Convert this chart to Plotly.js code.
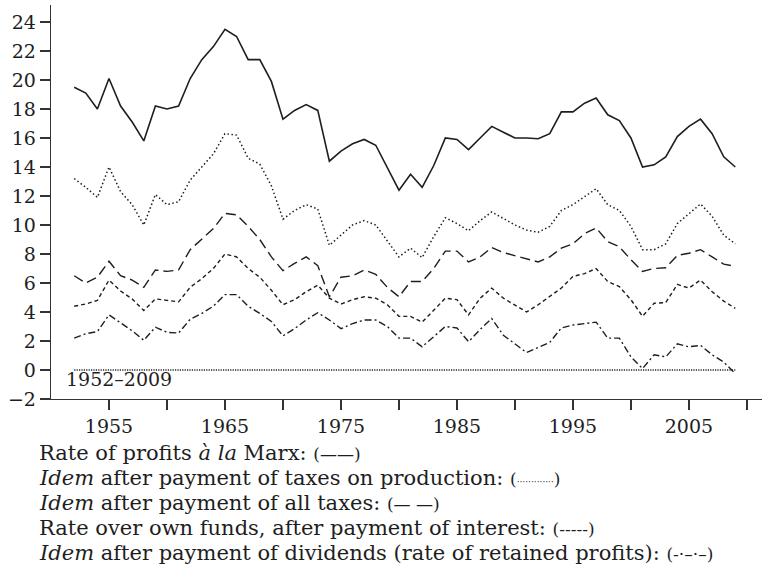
<!DOCTYPE html>
<html>
<head>
<meta charset="utf-8">
<script src="https://cdn.plot.ly/plotly-3.0.1.min.js"></script>
<style>
  html, body { margin: 0; padding: 0; background: #fff; }
  #chart { width: 762px; height: 578px; }
</style>
</head>
<body>
<div id="chart"></div>
<script>
// Profit rates, 1952-2009 (%)
const years = [
  1952, 1953, 1954, 1955, 1956, 1957, 1958, 1959, 1960, 1961,
  1962, 1963, 1964, 1965, 1966, 1967, 1968, 1969, 1970, 1971,
  1972, 1973, 1974, 1975, 1976, 1977, 1978, 1979, 1980, 1981,
  1982, 1983, 1984, 1985, 1986, 1987, 1988, 1989, 1990, 1991,
  1992, 1993, 1994, 1995, 1996, 1997, 1998, 1999, 2000, 2001,
  2002, 2003, 2004, 2005, 2006, 2007, 2008, 2009
];

// rate of profits a la Marx
const marxRate = [
  19.5, 19.1, 18.0, 20.1, 18.2, 17.1, 15.8, 18.2, 18.0, 18.2,
  20.1, 21.4, 22.3, 23.5, 23.0, 21.4, 21.4, 19.9, 17.3, 17.9,
  18.3, 17.9, 14.4, 15.1, 15.6, 15.9, 15.5, 13.9, 12.4, 13.5,
  12.6, 14.1, 16.0, 15.9, 15.2, 16.0, 16.8, 16.4, 16.0, 16.0,
  15.95, 16.3, 17.8, 17.8, 18.4, 18.75, 17.6, 17.2, 16.0, 14.0,
  14.15, 14.7, 16.1, 16.8, 17.3, 16.3, 14.7, 14.0
];

// idem after taxes on production
const afterProdTax = [
  13.2, 12.6, 11.9, 14.0, 12.3, 11.4, 10.0, 12.1, 11.4, 11.6,
  13.1, 14.0, 14.9, 16.3, 16.2, 14.6, 14.2, 12.7, 10.4, 11.0,
  11.4, 11.1, 8.6, 9.3, 10.0, 10.3, 10.0, 8.9, 7.8, 8.4,
  7.75, 9.2, 10.5, 10.1, 9.6, 10.3, 10.9, 10.45, 10.0, 9.65,
  9.5, 9.9, 11.0, 11.4, 11.95, 12.5, 11.4, 11.0, 9.9, 8.3,
  8.3, 8.7, 10.1, 10.8, 11.45, 10.6, 9.3, 8.7
];

// idem after all taxes
const afterAllTax = [
  6.5, 6.0, 6.4, 7.5, 6.5, 6.2, 5.7, 6.9, 6.8, 6.9,
  8.3, 9.0, 9.75, 10.8, 10.7, 9.9, 9.0, 7.8, 6.85, 7.35,
  7.8, 7.2, 5.05, 6.4, 6.5, 6.9, 6.6, 5.7, 5.05, 6.1,
  6.1, 7.0, 8.2, 8.2, 7.45, 7.8, 8.45, 8.1, 7.9, 7.7,
  7.45, 7.8, 8.4, 8.7, 9.4, 9.8, 8.85, 8.5, 7.6, 6.8,
  7.0, 7.05, 7.9, 8.05, 8.3, 7.8, 7.3, 7.15
];

// rate over own funds, after interest
const ownFunds = [
  4.4, 4.55, 4.8, 6.2, 5.45, 4.9, 4.1, 4.9, 4.8, 4.7,
  5.7, 6.3, 7.0, 8.0, 7.8, 7.0, 6.4, 5.5, 4.5, 4.85,
  5.4, 5.85, 4.95, 4.55, 4.85, 5.05, 4.95, 4.5, 3.7, 3.7,
  3.3, 4.1, 4.95, 4.85, 3.8, 4.95, 5.65, 4.95, 4.5, 4.0,
  4.5, 5.05, 5.65, 6.45, 6.65, 7.0, 6.1, 5.75, 4.85, 3.7,
  4.6, 4.65, 5.9, 5.65, 6.2, 5.4, 4.75, 4.25
];

// idem after dividends (retained profits)
const retained = [
  2.2, 2.5, 2.65, 3.8, 3.25, 2.7, 2.05, 2.95, 2.6, 2.55,
  3.5, 3.9, 4.4, 5.2, 5.2, 4.4, 3.9, 3.35, 2.35, 2.85,
  3.45, 3.95, 3.45, 2.85, 3.2, 3.45, 3.45, 3.0, 2.2, 2.2,
  1.6, 2.3, 3.0, 2.9, 1.95, 2.8, 3.55, 2.4, 1.8, 1.2,
  1.55, 1.9, 2.9, 3.1, 3.2, 3.3, 2.2, 2.2, 0.9, 0.1,
  1.05, 0.9, 1.8, 1.6, 1.7, 1.05, 0.55, -0.25
];

const xTickVals = [1955, 1960, 1965, 1970, 1975, 1980, 1985, 1990, 1995, 2000, 2005, 2010];
const xTickText = ['1955', '', '1965', '', '1975', '', '1985', '', '1995', '', '2005', ''];
const yTickVals = [-2, 0, 2, 4, 6, 8, 10, 12, 14, 16, 18, 20, 22, 24];

const legendLines = [
  'Rate of profits <i>à la</i> Marx: <span style="font-size:17px">(——)</span>',
  '<i>Idem</i> after payment of taxes on production: <span style="font-size:17px">(<span style="font-size:9px">·············</span>)</span>',
  '<i>Idem</i> after payment of all taxes: <span style="font-size:17px">(— —)</span>',
  'Rate over own funds, after payment of interest: <span style="font-size:17px">(-----)</span>',
  '<i>Idem</i> after payment of dividends (rate of retained profits): <span style="font-size:17px">(-·–·–)</span>'
];

const ink = '#1e1e1e';
const serif = 'DejaVu Serif, serif';

function series(y, dash, width) {
  return {
    x: years, y: y, type: 'scatter', mode: 'lines',
    line: { color: ink, width: width, dash: dash },
    hoverinfo: 'skip', showlegend: false
  };
}

const traces = [
  series(marxRate, 'solid', 1.6),
  series(afterProdTax, '1.5px,2.5px', 1.5),
  series(afterAllTax, '10px,5px', 1.4),
  series(ownFunds, '4px,3px', 1.4),
  series(retained, '7px,3px,2px,3px', 1.4)
];

const annotations = legendLines.map((t, i) => ({
  text: t, xref: 'paper', yref: 'paper',
  x: -14 / 711, y: -0.137 - i * 0.0635,
  xanchor: 'left', yanchor: 'middle', align: 'left', showarrow: false,
  font: { family: serif, size: 21, color: ink }
}));

annotations.push({
  text: years[0] + '–' + years[years.length - 1],
  xref: 'x', yref: 'y', x: 1951.1, y: -0.65,
  xanchor: 'left', yanchor: 'middle', showarrow: false,
  font: { family: serif, size: 19, color: ink }
});

const layout = {
  width: 762, height: 578,
  margin: { l: 51, r: 0, t: 5, b: 179 },
  paper_bgcolor: '#fff', plot_bgcolor: '#fff',
  font: { family: serif, size: 19, color: ink },
  showlegend: false,
  xaxis: {
    range: [1950, 2011.3],
    tickmode: 'array', tickvals: xTickVals, ticktext: xTickText,
    ticks: 'outside', ticklen: 10, tickwidth: 1.3, tickcolor: '#333',
    showline: true, linecolor: '#333', linewidth: 1.3,
    showgrid: false, zeroline: false,
    tickfont: { family: serif, size: 19, color: ink }
  },
  yaxis: {
    range: [-2, 25.17],
    tickmode: 'array', tickvals: yTickVals,
    ticks: 'outside', ticklen: 10, tickwidth: 1.3, tickcolor: '#333',
    showline: true, linecolor: '#333', linewidth: 1.3,
    showgrid: false, zeroline: false,
    tickfont: { family: serif, size: 19, color: ink }
  },
  shapes: [{
    type: 'line', xref: 'x', yref: 'y',
    x0: years[0], x1: years[years.length - 1], y0: 0, y1: 0,
    line: { color: '#222', width: 1.3, dash: '1.2px,1.2px' }
  }],
  annotations: annotations
};

Plotly.newPlot('chart', traces, layout, { staticPlot: true, displayModeBar: false });
</script>
</body>
</html>
